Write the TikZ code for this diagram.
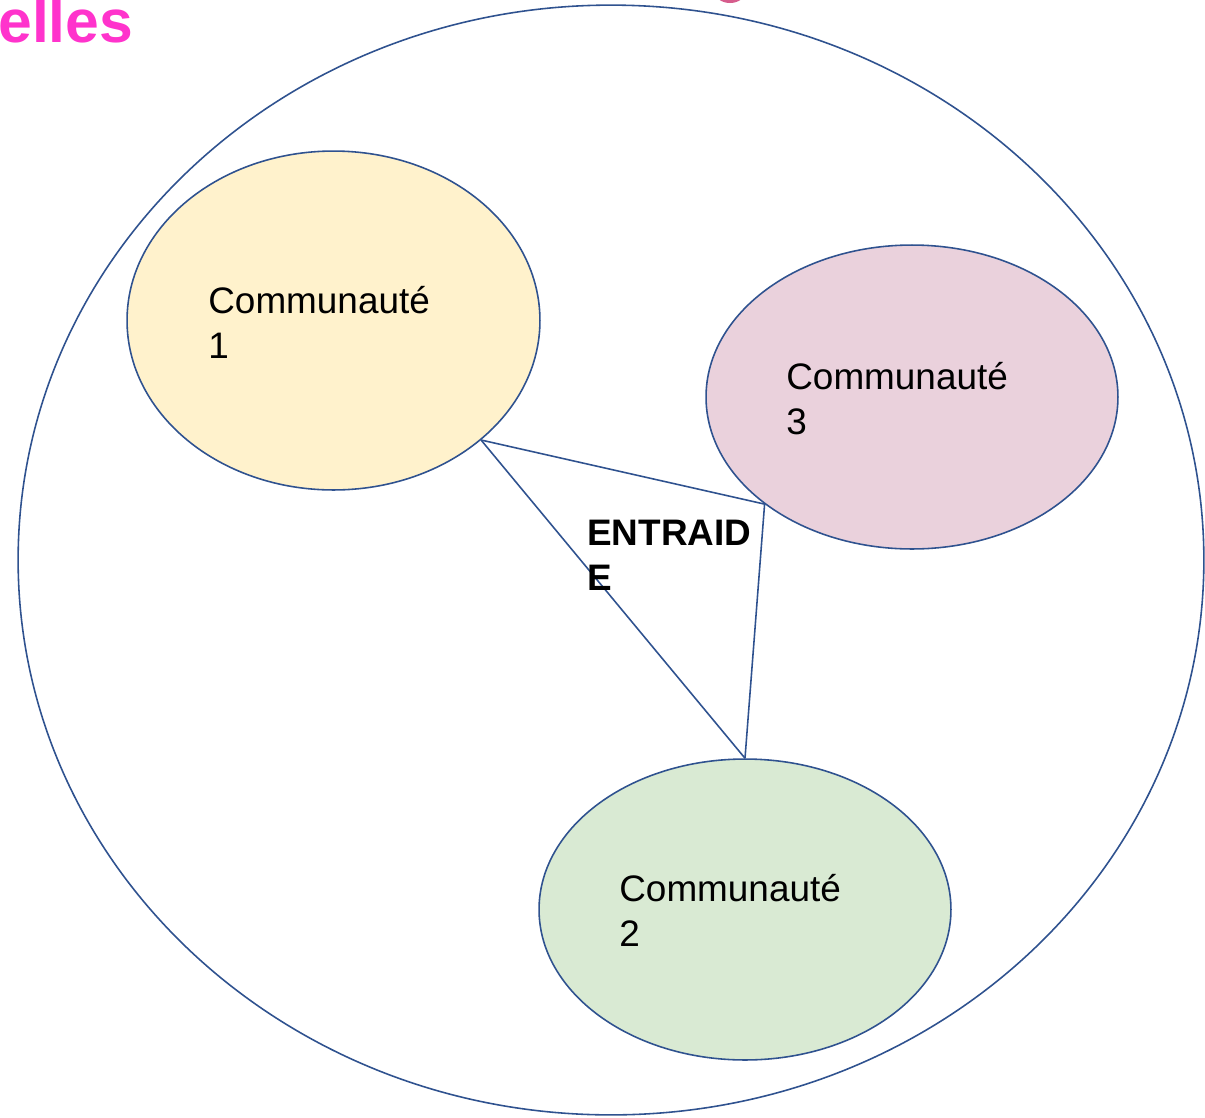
\documentclass[tikz,border=0pt]{standalone}
\usepackage{fontspec}
\setmainfont{Liberation Sans}
\usepackage{xcolor}
\usetikzlibrary{positioning,shapes.geometric}
\definecolor{rim}{RGB}{47,82,143}
\definecolor{yel}{RGB}{255,242,204}
\definecolor{pnk}{RGB}{234,209,220}
\definecolor{grn}{RGB}{217,234,211}
\definecolor{mag}{RGB}{255,51,204}

\begin{document}
\begin{tikzpicture}[x=0.02cm,y=-0.02cm,
  comm/.style={
   draw=rim,
   ellipse,
   line width=0.9pt,
   inner sep=0pt
  },
  lbl/.style={
    anchor=base west,
    align=left,
    inner sep=0pt,
    font=\fontsize{21}{25.6}\selectfont
  },
  link/.style={draw=rim, line width=0.9pt}]
  \useasboundingbox (0,0) rectangle (1205,1117);
  % outer circle
  \node[comm,minimum width=23.72cm,minimum height=22.2cm] (all) at (611,560) {};
  \fill[color={rgb,255:red,214;green,92;blue,140}] (730,-8) ellipse (15 and 11);
  \node[lbl,anchor=base west,font=\fontsize{34.5}{40}\selectfont\bfseries,text=mag] 
      (title) at (-2,42) {elles};
  % communities
  \node[comm,fill=yel,minimum width=8.26cm,minimum height=6.78cm] (c1) at (333.5,320.5) {};
  \node[comm,fill=pnk,minimum width=8.24cm,minimum height=6.08cm] (c3) at (912,397) {};
  \node[comm,fill=grn,minimum width=8.24cm,minimum height=6.02cm] (c2) at (745,909.5) {};
  \node[lbl] (t1) at (208,358) {Communauté\\1};
  \node[lbl] (t3) at (786,434) {Communauté\\3};
  \node[lbl] (t2) at (619,946) {Communauté\\2};
  % links
  \draw[link] (c1.-39) -- (c3.216);
  \draw[link] (c1.-39) -- (c2.north);
  \draw[link] (c3.216) -- (c2.north);
  \node[lbl,font=\fontsize{21}{25.6}\selectfont\bfseries] (help) at (587,590) {ENTRAID\\E};
\end{tikzpicture}
\end{document}
